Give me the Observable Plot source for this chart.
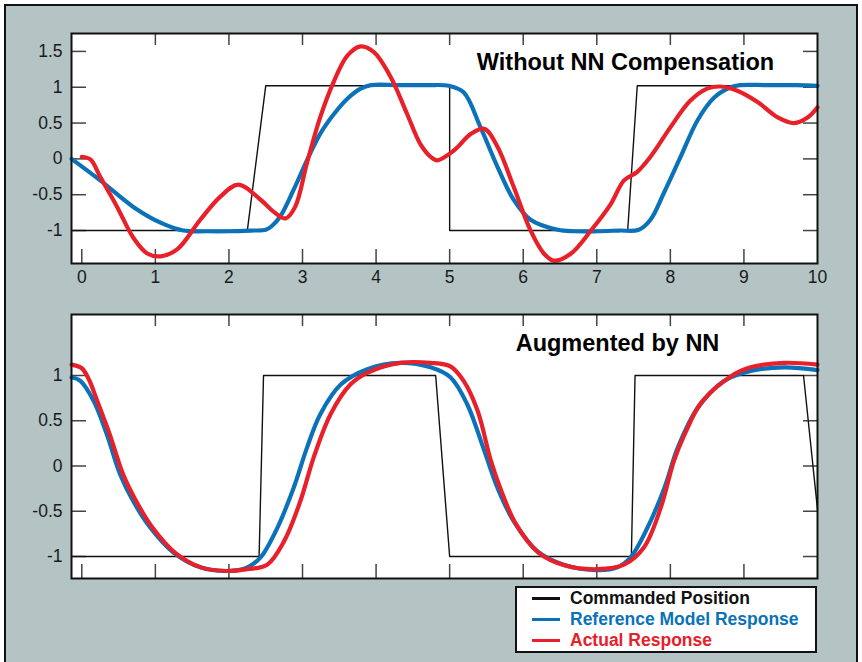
<!DOCTYPE html>
<html>
<head>
<meta charset="utf-8">
<script src="https://cdn.jsdelivr.net/npm/d3@7"></script>
<script src="https://cdn.jsdelivr.net/npm/@observablehq/plot@0.6"></script>
<style>
  html, body { margin: 0; padding: 0; background: #fff; }
  #wrap { position: relative; width: 862px; height: 662px; overflow: hidden; background: #fff; font-family: "Liberation Sans", Arial, sans-serif; }
  #panel { position: absolute; left: 4px; top: 4px; width: 854px; height: 670px; background: #b4c4c4; border: 2px solid #111; box-sizing: border-box; }
  .plot { position: absolute; left: 0; }
  #legend { position: absolute; left: 515px; top: 586px; width: 302px; height: 67px; background: #fff; border: 2px solid #111; box-sizing: border-box; font-weight: bold; font-size: 17.5px; }
  #legend .row { position: absolute; left: 0; height: 21px; display: flex; align-items: center; }
  #legend .sw { display: inline-block; width: 28px; height: 3px; margin-left: 15px; margin-right: 10px; }
</style>
</head>
<body>
<div id="wrap">
  <div id="panel"></div>
</div>
<script>
// ---------- data ----------
const cmdTopT = [-0.14, 2.25, 2.5, 5.0, 5.0, 7.42, 7.55, 10];
const cmdTopV = [-1, -1, 1.02, 1.02, -1, -1, 1.02, 1.02];

const refTopT = [-0.14, 0.25, 0.70, 1.07, 1.38, 1.7, 2.0, 2.3, 2.5, 2.58, 2.70, 2.88, 3.06, 3.24, 3.43, 3.61, 3.79, 3.93, 4.3, 4.7, 4.99, 5.19, 5.42, 5.65, 5.87, 6.10, 6.47, 6.7, 7.0, 7.3, 7.57, 7.73, 7.91, 8.14, 8.37, 8.6, 8.82, 8.95, 9.3, 9.7, 10];
const refTopV = [0, -0.30, -0.67, -0.89, -1.0, -1.01, -1.01, -1.0, -0.99, -0.94, -0.80, -0.43, -0.02, 0.35, 0.63, 0.84, 0.98, 1.03, 1.03, 1.03, 1.02, 0.93, 0.44, -0.11, -0.57, -0.85, -0.99, -1.01, -1.01, -1.0, -0.99, -0.85, -0.48, 0.03, 0.54, 0.86, 1.0, 1.03, 1.03, 1.03, 1.02];

const actTopT = [0, 0.12, 0.25, 0.48, 0.70, 0.89, 1.07, 1.30, 1.61, 1.88, 2.13, 2.43, 2.61, 2.77, 2.90, 3.06, 3.24, 3.43, 3.61, 3.79, 3.97, 4.2, 4.42, 4.6, 4.74, 4.83, 5.06, 5.29, 5.47, 5.65, 5.87, 6.10, 6.28, 6.42, 6.65, 6.92, 7.19, 7.37, 7.55, 7.73, 8.0, 8.27, 8.5, 8.68, 8.91, 9.19, 9.46, 9.68, 9.87, 10];
const actTopV = [0.03, -0.01, -0.25, -0.67, -1.1, -1.32, -1.36, -1.26, -0.85, -0.53, -0.36, -0.57, -0.74, -0.83, -0.67, -0.06, 0.58, 1.09, 1.44, 1.57, 1.49, 1.14, 0.63, 0.21, 0.03, -0.02, 0.12, 0.35, 0.42, 0.17, -0.39, -1.0, -1.32, -1.42, -1.32, -1.0, -0.63, -0.30, -0.18, 0.03, 0.44, 0.81, 0.98, 1.01, 0.95, 0.79, 0.58, 0.50, 0.58, 0.72];

const cmdBotT = [-0.14, 2.41, 2.47, 4.81, 5.0, 7.47, 7.52, 9.81, 10];
const cmdBotV = [-1, -1, 1, 1, -1, -1, 1, 1, -0.48];

const refBotT = [-0.14, -0.02, 0.16, 0.34, 0.52, 0.70, 0.93, 1.25, 1.61, 1.98, 2.25, 2.43, 2.66, 2.88, 3.06, 3.24, 3.52, 3.88, 4.33, 4.74, 5.01, 5.24, 5.47, 5.65, 5.87, 6.19, 6.55, 7.01, 7.28, 7.46, 7.69, 7.92, 8.10, 8.37, 8.73, 9.09, 9.55, 10];
const refBotV = [0.98, 0.94, 0.72, 0.35, -0.09, -0.39, -0.68, -0.96, -1.12, -1.16, -1.12, -1.01, -0.68, -0.24, 0.20, 0.57, 0.90, 1.07, 1.14, 1.09, 0.98, 0.68, 0.17, -0.24, -0.61, -0.94, -1.09, -1.15, -1.12, -1.01, -0.68, -0.24, 0.20, 0.64, 0.94, 1.05, 1.09, 1.06];

const actBotT = [-0.14, 0.0, 0.10, 0.20, 0.38, 0.56, 0.74, 0.96, 1.27, 1.62, 1.98, 2.25, 2.52, 2.75, 2.97, 3.15, 3.38, 3.65, 3.88, 4.33, 4.74, 5.01, 5.19, 5.38, 5.56, 5.70, 5.90, 6.21, 6.57, 7.01, 7.37, 7.64, 7.87, 8.05, 8.20, 8.42, 8.82, 9.09, 9.55, 10];
const actBotV = [1.12, 1.08, 0.95, 0.74, 0.35, -0.09, -0.39, -0.68, -0.96, -1.12, -1.16, -1.14, -1.09, -0.83, -0.39, 0.09, 0.57, 0.90, 1.03, 1.14, 1.14, 1.10, 0.94, 0.61, 0.06, -0.27, -0.64, -0.96, -1.10, -1.14, -1.09, -0.90, -0.46, 0.06, 0.36, 0.70, 0.99, 1.09, 1.14, 1.12];

const xLabels = [0, 1, 2, 3, 4, 5, 6, 7, 8, 9, 10];
const xTicksTop = [1, 2, 3, 4, 5, 6, 7, 8, 9];
const xTicksBottom = [0, 1, 2, 3, 4, 5, 6, 7, 8, 9];
const yTicksTop = [1.5, 1, 0.5, 0, -0.5, -1];
const yTicksBot = [1, 0.5, 0, -0.5, -1];

const titles = ["Without NN Compensation", "Augmented by NN"];
const seriesNames = ["Commanded Position", "Reference Model Response", "Actual Response"];
const seriesColors = ["#111111", "#0b72b9", "#e8202a"];

// ---------- helpers ----------
const zip = (T, V) => T.map((t, i) => ({t, v: V[i]}));
const FONT = "Liberation Sans, Arial, sans-serif";

function panel({cmd, ref, act, yDomain, yTicks, title, height, mTop, mBottom, showXLabels, titleDx, titleDy}) {
  const W = 862, mL = 71, mR = 45;
  const frameH = height - mTop - mBottom;
  const tickLen = 14;
  const marks = [
    Plot.frame({fill: "white"}),
    Plot.tickX(xTicksBottom, {x: d => d, insetTop: frameH - tickLen, stroke: "#444", strokeWidth: 1.5}),
    Plot.tickX(xTicksTop, {x: d => d, insetBottom: frameH - tickLen + 2, stroke: "#444", strokeWidth: 1.5}),
    Plot.tickY(yTicks, {y: d => d, insetRight: (W - mL - mR) - tickLen - 1, stroke: "#444", strokeWidth: 1.5}),
    Plot.tickY(yTicks, {y: d => d, insetLeft: (W - mL - mR) - tickLen, stroke: "#444", strokeWidth: 1.5}),
    Plot.axisY(yTicks, {tickSize: 0, tickPadding: 9, fontSize: 17.5, fill: "#1a1a1a", label: null,
      tickFormat: d => String(d)}),
  ];
  if (showXLabels) {
    marks.push(Plot.axisX(xLabels, {tickSize: 0, tickPadding: 7, fontSize: 17.5, fill: "#1a1a1a", label: null,
      tickFormat: d => String(d)}));
  } else {
    marks.push(Plot.axisX([], {tickSize: 0, label: null}));
  }
  marks.push(
    Plot.line(zip(cmd[0], cmd[1]), {x: "t", y: "v", stroke: seriesColors[0], strokeWidth: 1.4}),
    Plot.line(zip(ref[0], ref[1]), {x: "t", y: "v", stroke: seriesColors[1], strokeWidth: 4.2, curve: "catmull-rom"}),
    Plot.line(zip(act[0], act[1]), {x: "t", y: "v", stroke: seriesColors[2], strokeWidth: 4.2, curve: "catmull-rom"}),
    Plot.frame({stroke: "#111", strokeWidth: 2}),
    Plot.text([title], {frameAnchor: "top", dx: titleDx, dy: titleDy, lineAnchor: "middle",
      fontSize: 23.5, fontWeight: "bold", fill: "#000", fontFamily: FONT})
  );
  return Plot.plot({
    width: W, height,
    marginLeft: mL, marginRight: mR, marginTop: mTop, marginBottom: mBottom,
    x: {domain: [-0.14, 10]},
    y: {domain: yDomain},
    style: {fontFamily: FONT, background: "transparent", overflow: "visible"},
    marks
  });
}

const wrap = document.getElementById("wrap");

const topPlot = panel({
  cmd: [cmdTopT, cmdTopV], ref: [refTopT, refTopV], act: [actTopT, actTopV],
  yDomain: [-1.46, 1.75], yTicks: yTicksTop, title: titles[0],
  height: 300, mTop: 33, mBottom: 37, showXLabels: true, titleDx: 181, titleDy: 29
});
topPlot.classList.add("plot");
topPlot.style.top = "0px";
wrap.appendChild(topPlot);

const botPlot = panel({
  cmd: [cmdBotT, cmdBotV], ref: [refBotT, refBotV], act: [actBotT, actBotV],
  yDomain: [-1.243, 1.674], yTicks: yTicksBot, title: titles[1],
  height: 362, mTop: 14, mBottom: 84, showXLabels: false, titleDx: 173, titleDy: 29
});
botPlot.classList.add("plot");
botPlot.style.top = "300px";
wrap.appendChild(botPlot);

const legend = document.createElement("div");
legend.id = "legend";
seriesNames.forEach((name, i) => {
  const row = document.createElement("div");
  row.className = "row";
  row.style.top = (0 + i * 21) + "px";
  const sw = document.createElement("span");
  sw.className = "sw";
  sw.style.background = seriesColors[i];
  const tx = document.createElement("span");
  tx.textContent = name;
  tx.style.color = seriesColors[i];
  row.appendChild(sw);
  row.appendChild(tx);
  legend.appendChild(row);
});
wrap.appendChild(legend);
</script>
</body>
</html>
